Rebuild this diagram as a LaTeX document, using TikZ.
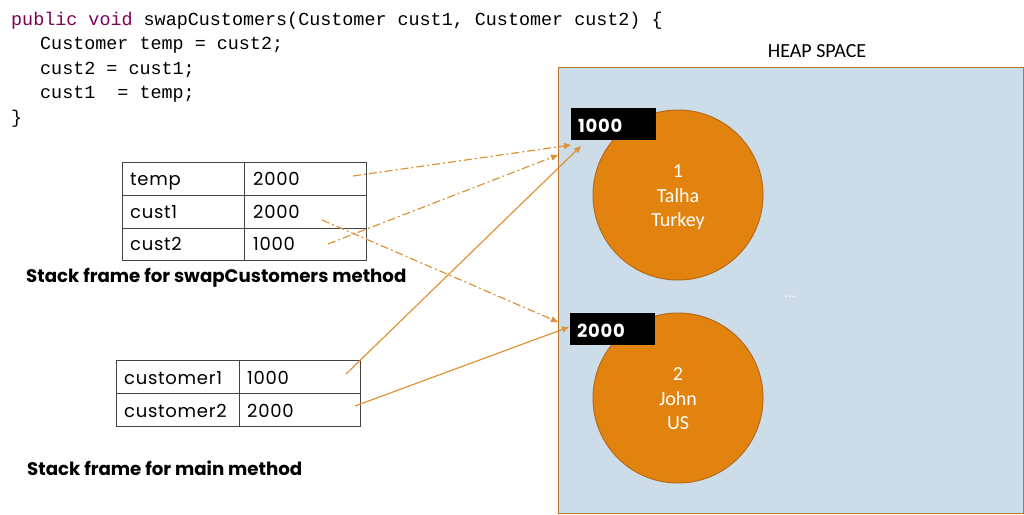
\documentclass[tikz,border=0pt]{standalone}
\usepackage{fontspec}
\usetikzlibrary{arrows.meta}
\newfontfamily\gothfont{Poppins}
\newfontfamily\gothwide{Poppins}[LetterSpace=4]
\newfontfamily\calibfont{Carlito}
\newfontfamily\codefont{Liberation Mono}
\definecolor{heapfill}{HTML}{CCDDE9}
\definecolor{heapline}{HTML}{B9742E}
\definecolor{objfill}{HTML}{E3830F}
\definecolor{objline}{HTML}{B66B17}
\definecolor{arr}{HTML}{E0923A}
\definecolor{kw}{HTML}{7F0055}
\definecolor{cellline}{HTML}{444444}
\tikzset{
  codeline/.style={anchor=base west, inner sep=0pt, font=\codefont\fontsize{18.4}{20}\selectfont},
  cell/.style={draw=cellline, line width=1.2pt, minimum height=33pt, inner sep=0pt},
  celltext/.style={anchor=base west, inner sep=0pt, font=\gothwide\fontsize{18}{20}\selectfont},
  framelabel/.style={anchor=base west, inner sep=0pt, font=\gothfont\bfseries\fontsize{18.2}{20}\selectfont},
  addr/.style={fill=black, text=white, minimum width=85pt, minimum height=32pt, inner sep=0pt, anchor=north west},
  addrtext/.style={anchor=base west, inner sep=0pt, text=white, font=\gothwide\bfseries\fontsize{18}{20}\selectfont},
  obj/.style={circle, fill=objfill, draw=objline, line width=1pt, minimum size=170pt, inner sep=0pt},
  objtext/.style={anchor=base, inner sep=0pt, text=white, font=\calibfont\fontsize{20}{22}\selectfont},
  ref/.style={draw=arr, line width=1.2pt, -{Triangle[length=7pt,width=6pt]}},
  refdash/.style={ref, dash pattern=on 8pt off 3pt on 2pt off 3pt},
}
\begin{document}
\begin{tikzpicture}[x=1pt,y=-1pt]
\useasboundingbox (0,0) rectangle (1024,514);
% code
\node[codeline] (l1) at (11,25) {\textcolor{kw}{public void} swapCustomers(Customer cust1, Customer cust2) \{};
\node[codeline] (l2) at (40,49.5) {Customer temp = cust2;};
\node[codeline] (l3) at (40,74) {cust2 = cust1;};
\node[codeline] (l4) at (40,98.5) {cust1\ \ = temp;};
\node[codeline] (l5) at (11,123) {\}};
% heap
\node[draw=heapline, fill=heapfill, line width=1.2pt, minimum width=465pt, minimum height=446pt, inner sep=0pt, anchor=north west] (heap) at (558,67) {};
\node[anchor=base, inner sep=0pt, font=\calibfont\fontsize{20}{22}\selectfont] (heaplbl) at (817,57) {HEAP SPACE};
\node[obj] (o1) at (678,195) {};
\node[obj] (o2) at (678,398) {};
\node[objtext] (o1a) at (678,177) {1};
\node[objtext] (o1b) at (678,202) {Talha};
\node[objtext] (o1c) at (678,226) {Turkey};
\node[objtext] (o2a) at (678,380) {2};
\node[objtext] (o2b) at (678,405) {John};
\node[objtext] (o2c) at (678,429) {US};
\node[objtext, font=\calibfont\fontsize{14}{16}\selectfont] (dots) at (790,297) {...};
\node[addr] (a1) at (571,108) {};
\node[addrtext] (a1t) at (578,132) {1000};
\node[addr] (a2) at (570,313) {};
\node[addrtext] (a2t) at (577,337) {2000};
% swap table
\node[cell, minimum width=122pt, anchor=north west] (r1a) at (122,162) {};
\node[cell, minimum width=122pt, anchor=north west] (r1b) at (244,162) {};
\node[cell, minimum width=122pt, anchor=north west] (r2a) at (122,195) {};
\node[cell, minimum width=122pt, anchor=north west] (r2b) at (244,195) {};
\node[cell, minimum width=122pt, anchor=north west, minimum height=32pt] (r3a) at (122,228) {};
\node[cell, minimum width=122pt, anchor=north west, minimum height=32pt] (r3b) at (244,228) {};
\node[celltext] at (130,185) {temp};
\node[celltext] at (253,185) {2000};
\node[celltext] at (130,218) {cust1};
\node[celltext] at (253,218) {2000};
\node[celltext] at (130,250) {cust2};
\node[celltext] at (253,250) {1000};
\node[framelabel] (f1) at (26,282) {Stack frame for swapCustomers method};
% main table
\node[cell, minimum width=123pt, anchor=north west] (m1a) at (116,360) {};
\node[cell, minimum width=121pt, anchor=north west] (m1b) at (239,360) {};
\node[cell, minimum width=123pt, anchor=north west] (m2a) at (116,393) {};
\node[cell, minimum width=121pt, anchor=north west] (m2b) at (239,393) {};
\node[celltext] at (124,384) {customer1};
\node[celltext] at (247,384) {1000};
\node[celltext] at (124,417) {customer2};
\node[celltext] at (247,417) {2000};
\node[framelabel] (f2) at (27,475) {Stack frame for main method};
% connector ends
\coordinate (pTemp) at (353,176);
\coordinate (pCust1) at (322,220);
\coordinate (pCust2) at (328,244);
\coordinate (pC1) at (346,374);
\coordinate (pC2) at (355,406);
\coordinate (tTemp) at (571,145);
\coordinate (tCust2) at (558,155);
\coordinate (tC1) at (581,146);
\coordinate (tCust1) at (558,322);
\coordinate (tC2) at (569,327);
\draw[refdash] (pTemp) -- (tTemp);
\draw[refdash] (pCust2) -- (tCust2);
\draw[refdash] (pCust1) -- (tCust1);
\draw[ref] (pC1) -- (tC1);
\draw[ref] (pC2) -- (tC2);
\end{tikzpicture}
\end{document}
